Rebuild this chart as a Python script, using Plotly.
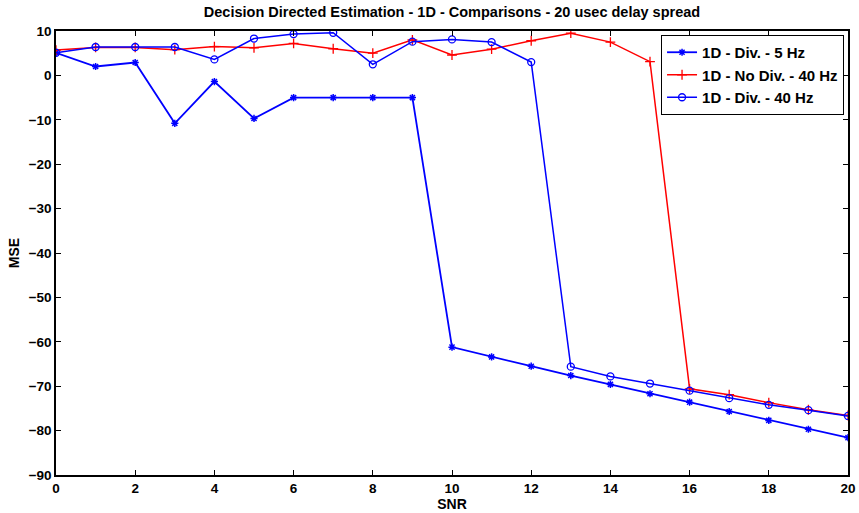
import plotly.graph_objects as go

# SNR axis values (dB)
snr = list(range(0, 21))

# MSE (dB) for each estimator configuration
mse_div_5hz = [5.1, 2.0, 2.9, -10.8, -1.4, -9.7, -5.0, -5.0, -5.0, -5.0,
               -61.2, -63.4, -65.5, -67.6, -69.6, -71.7, -73.6, -75.7, -77.7, -79.7, -81.6]
mse_nodiv_40hz = [5.7, 6.3, 6.3, 5.8, 6.5, 6.2, 7.2, 6.0, 5.0, 8.0,
                  4.6, 5.9, 7.8, 9.5, 7.5, 3.1, -70.6, -71.9, -73.7, -75.3, -76.6]
mse_div_40hz = [5.1, 6.4, 6.4, 6.4, 3.6, 8.3, 9.3, 9.6, 2.5, 7.6,
                8.1, 7.5, 3.0, -65.6, -67.8, -69.4, -71.0, -72.7, -74.2, -75.4, -76.7]

series_names = ["1D - Div. - 5 Hz", "1D - No Div. - 40 Hz", "1D - Div. - 40 Hz"]

x_ticks = list(range(0, 21, 2))
y_ticks = list(range(-90, 11, 10))

FONT = "Liberation Sans, Arial, sans-serif"

fig = go.Figure()
fig.add_trace(go.Scatter(
    x=snr, y=mse_div_5hz, name=series_names[0], mode="lines+markers",
    line=dict(color="#0000ff", width=1.8),
    marker=dict(symbol="asterisk-open", size=6, color="#0000ff",
                line=dict(color="#0000ff", width=1.5)),
))
fig.add_trace(go.Scatter(
    x=snr, y=mse_nodiv_40hz, name=series_names[1], mode="lines+markers",
    line=dict(color="#ff0000", width=1.5),
    marker=dict(symbol="cross-thin-open", size=7, color="#ff0000",
                line=dict(color="#ff0000", width=1.3)),
))
fig.add_trace(go.Scatter(
    x=snr, y=mse_div_40hz, name=series_names[2], mode="lines+markers",
    line=dict(color="#0000ff", width=1.5),
    marker=dict(symbol="circle-open", size=7, color="#0000ff",
                line=dict(color="#0000ff", width=1.3)),
))

axis_common = dict(
    showline=True, linecolor="black", linewidth=1.5, mirror="ticks",
    ticks="inside", ticklen=5, tickwidth=1, tickcolor="black",
    showgrid=False, zeroline=False, automargin=False,
    tickfont=dict(family=FONT, size=13.5, color="black", weight="bold"),
)

fig.update_layout(
    width=859, height=513,
    margin=dict(l=56, r=11, t=31, b=38),
    paper_bgcolor="white", plot_bgcolor="white",
    title=dict(text="<b>Decision Directed Estimation - 1D - Comparisons - 20 usec delay spread</b>",
               x=0.5, xanchor="center", xref="paper", y=0.977, yanchor="middle",
               font=dict(family=FONT, size=14.5, color="black")),
    xaxis=dict(range=[0, 20], tickvals=x_ticks,
               title=dict(text="<b>SNR</b>", standoff=4,
                          font=dict(family=FONT, size=14, color="black")),
               **axis_common),
    yaxis=dict(range=[-90, 10], tickvals=y_ticks,
               title=dict(text="<b>MSE</b>", standoff=6,
                          font=dict(family=FONT, size=14, color="black")),
               **axis_common),
    legend=dict(x=0.995, y=0.991, xanchor="right", yanchor="top",
                bgcolor="white", bordercolor="black", borderwidth=1,
                font=dict(family=FONT, size=15, color="black", weight="bold"),
                tracegroupgap=0, itemwidth=30),
    showlegend=True,
)

fig.write_html("out.html")
